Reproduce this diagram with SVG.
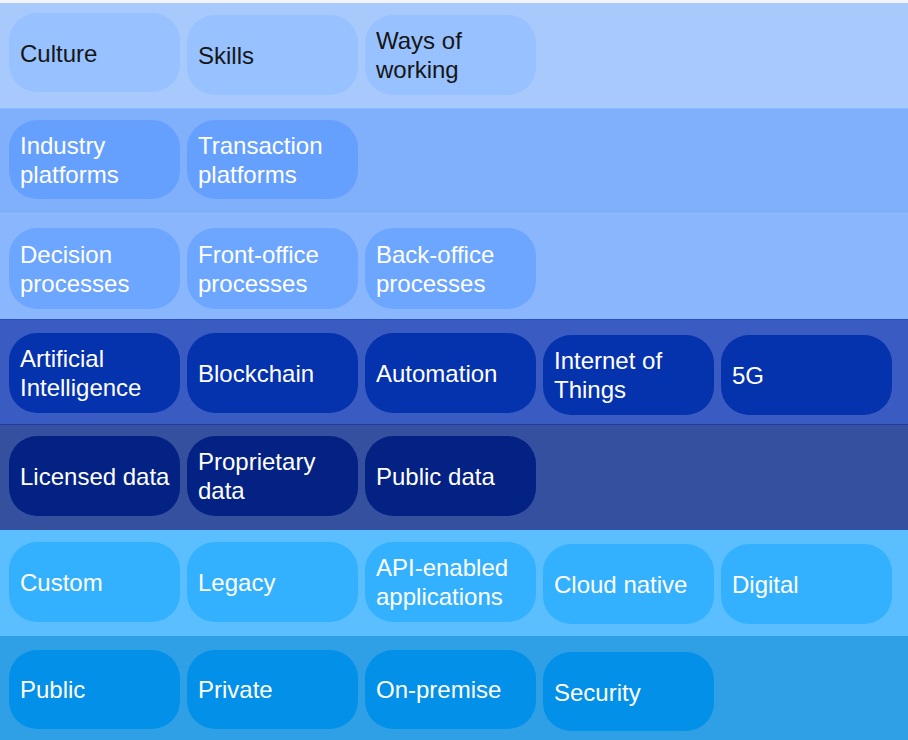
<svg xmlns="http://www.w3.org/2000/svg" width="908" height="740" viewBox="0 0 908 740">
<style>
text{font-family:"Liberation Sans",Arial,sans-serif;font-size:24px;fill:#ffffff}
.dk text{fill:#161616}
.n1 rect{fill:#97c1ff}
.n2 rect{fill:#66a0ff}
.n3 rect{fill:#6ca6ff}
.n4 rect{fill:#0532ad}
.n5 rect{fill:#032283}
.n6 rect{fill:#33b1ff}
.n7 rect{fill:#0290e8}
</style>
<g id="bands">
<rect x="0" y="0" width="908" height="3" fill="#f2f4f8"/>
<rect x="0" y="3" width="908" height="105" fill="#a8c9fc"/>
<rect x="0" y="108" width="908" height="105" fill="#80b0fc"/>
<rect x="0" y="213" width="908" height="106" fill="#8ab6fd"/>
<rect x="0" y="319" width="908" height="105" fill="#3a5cc2"/>
<rect x="0" y="424" width="908" height="106" fill="#35509e"/>
<rect x="0" y="530" width="908" height="106" fill="#5abeff"/>
<rect x="0" y="636" width="908" height="104" fill="#30a0e6"/>
<rect x="0" y="108" width="908" height="1" fill="#8ab8ff"/>
<rect x="0" y="213" width="908" height="1" fill="#93bcff"/>
<rect x="0" y="319" width="908" height="1" fill="#2a4fbf"/>
<rect x="0" y="424" width="908" height="1" fill="#1f3d9e"/>
</g>
<g id="row1" class="n1 dk">
<g id="culture"><rect x="9" y="13" width="171" height="79" rx="28"/><text x="20" y="62">Culture</text></g>
<g id="skills"><rect x="187" y="15" width="171" height="80" rx="28"/><text x="198" y="64">Skills</text></g>
<g id="ways"><rect x="365" y="15" width="171" height="80" rx="28"/><text x="376" y="49">Ways of</text><text x="376" y="78">working</text></g>
</g>
<g id="row2" class="n2">
<g id="industry"><rect x="9" y="120" width="171" height="79" rx="28"/><text x="20" y="154">Industry</text><text x="20" y="183">platforms</text></g>
<g id="transaction"><rect x="187" y="120" width="171" height="79" rx="28"/><text x="198" y="154">Transaction</text><text x="198" y="183">platforms</text></g>
</g>
<g id="row3" class="n3">
<g id="decision"><rect x="9" y="228" width="171" height="81" rx="28"/><text x="20" y="263">Decision</text><text x="20" y="292">processes</text></g>
<g id="front"><rect x="187" y="228" width="171" height="81" rx="28"/><text x="198" y="263">Front-office</text><text x="198" y="292">processes</text></g>
<g id="back"><rect x="365" y="228" width="171" height="81" rx="28"/><text x="376" y="263">Back-office</text><text x="376" y="292">processes</text></g>
</g>
<g id="row4" class="n4">
<g id="ai"><rect x="9" y="333" width="171" height="80" rx="28"/><text x="20" y="367">Artificial</text><text x="20" y="396">Intelligence</text></g>
<g id="blockchain"><rect x="187" y="333" width="171" height="80" rx="28"/><text x="198" y="382">Blockchain</text></g>
<g id="automation"><rect x="365" y="333" width="171" height="80" rx="28"/><text x="376" y="382">Automation</text></g>
<g id="iot"><rect x="543" y="335" width="171" height="80" rx="28"/><text x="554" y="369">Internet of</text><text x="554" y="398">Things</text></g>
<g id="g5"><rect x="721" y="335" width="171" height="80" rx="28"/><text x="732" y="384">5G</text></g>
</g>
<g id="row5" class="n5">
<g id="licensed"><rect x="9" y="436" width="171" height="80" rx="28"/><text x="20" y="485">Licensed data</text></g>
<g id="proprietary"><rect x="187" y="436" width="171" height="80" rx="28"/><text x="198" y="470">Proprietary</text><text x="198" y="499">data</text></g>
<g id="publicdata"><rect x="365" y="436" width="171" height="80" rx="28"/><text x="376" y="485">Public data</text></g>
</g>
<g id="row6" class="n6">
<g id="custom"><rect x="9" y="542" width="171" height="80" rx="28"/><text x="20" y="591">Custom</text></g>
<g id="legacy"><rect x="187" y="542" width="171" height="80" rx="28"/><text x="198" y="591">Legacy</text></g>
<g id="api"><rect x="365" y="542" width="171" height="80" rx="28"/><text x="376" y="576">API-enabled</text><text x="376" y="605">applications</text></g>
<g id="cloud"><rect x="543" y="544" width="171" height="80" rx="28"/><text x="554" y="593">Cloud native</text></g>
<g id="digital"><rect x="721" y="544" width="171" height="80" rx="28"/><text x="732" y="593">Digital</text></g>
</g>
<g id="row7" class="n7">
<g id="public"><rect x="9" y="650" width="171" height="79" rx="28"/><text x="20" y="698">Public</text></g>
<g id="private"><rect x="187" y="650" width="171" height="79" rx="28"/><text x="198" y="698">Private</text></g>
<g id="onprem"><rect x="365" y="650" width="171" height="79" rx="28"/><text x="376" y="698">On-premise</text></g>
<g id="security"><rect x="543" y="652" width="171" height="79" rx="28"/><text x="554" y="701">Security</text></g>
</g>
</svg>
